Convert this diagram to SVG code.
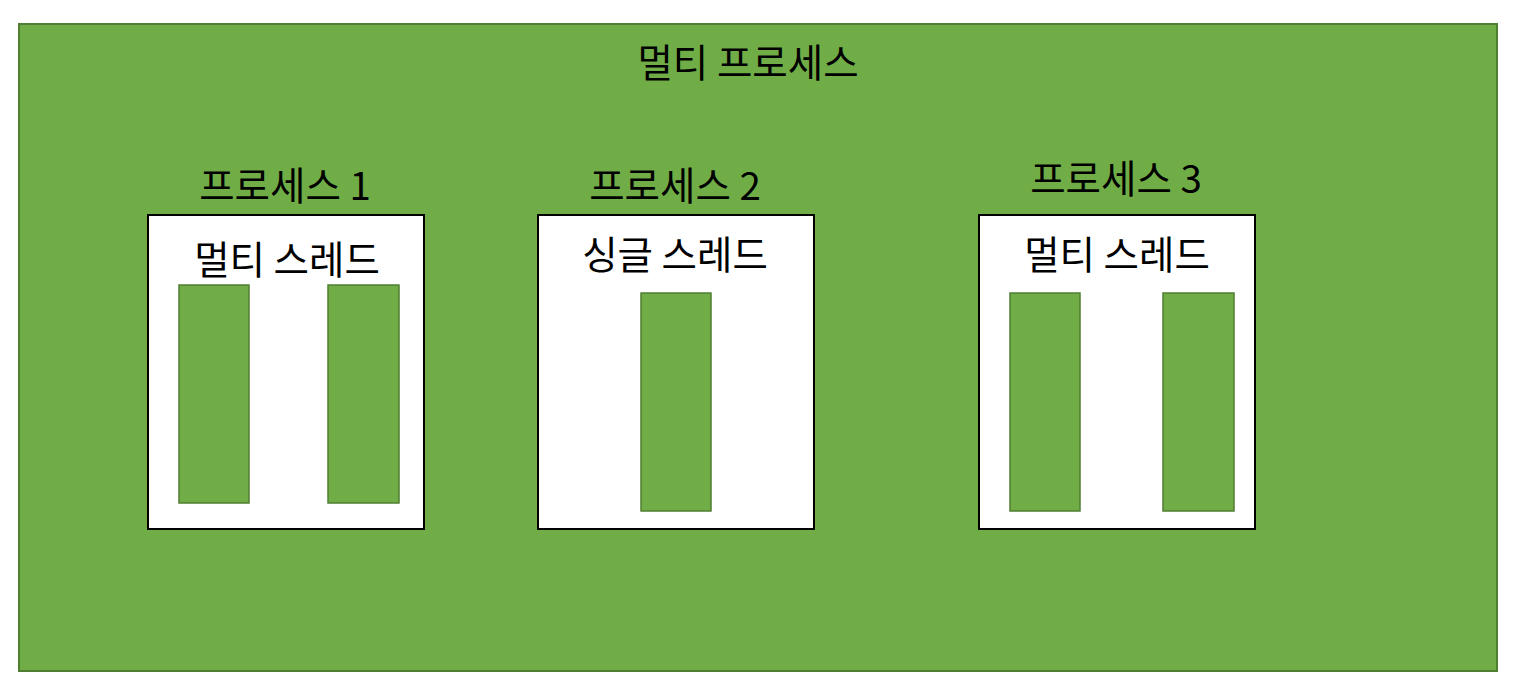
<svg xmlns="http://www.w3.org/2000/svg" width="1520" height="690" viewBox="0 0 1520 690">
<style>
.outer{fill:#70ad47;stroke:#507e32;stroke-width:2}
.box{fill:#ffffff;stroke:#000000;stroke-width:2}
.thread{fill:#70ad47;stroke:#507e32;stroke-width:1.5}
text{font-family:"Noto Sans CJK KR","Noto Sans",sans-serif;font-size:38.5px;fill:#000;text-anchor:middle}
</style>
<g id="multi-process">
<rect class="outer" x="19" y="24" width="1478" height="647"/>
<text x="748" y="77">멀티 프로세스</text>
</g>
<g id="process1">
<text x="285" y="200">프로세스 1</text>
<rect class="box" x="148" y="215" width="276" height="314"/>
<text x="287" y="274">멀티 스레드</text>
<rect class="thread" x="179" y="285" width="70" height="218"/>
<rect class="thread" x="328" y="285" width="71" height="218"/>
</g>
<g id="process2">
<text x="675" y="200">프로세스 2</text>
<rect class="box" x="538" y="215" width="276" height="314"/>
<text x="675" y="269">싱글 스레드</text>
<rect class="thread" x="641" y="293" width="70" height="218"/>
</g>
<g id="process3">
<text x="1116" y="193">프로세스 3</text>
<rect class="box" x="979" y="215" width="276" height="314"/>
<text x="1117" y="269">멀티 스레드</text>
<rect class="thread" x="1010" y="293" width="70" height="218"/>
<rect class="thread" x="1163" y="293" width="71" height="218"/>
</g>
<g id="connectors"/>
</svg>
